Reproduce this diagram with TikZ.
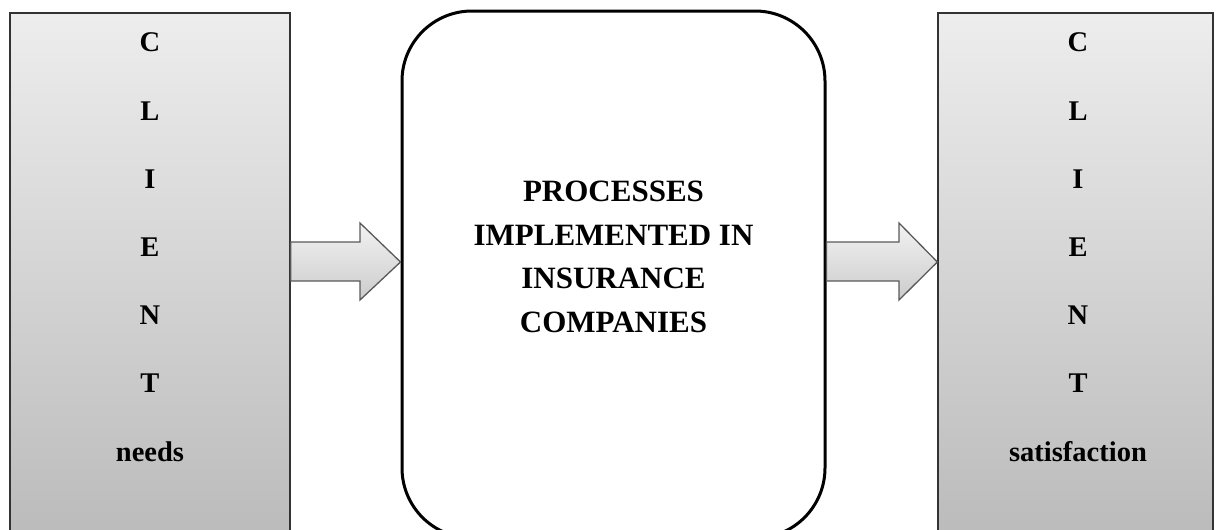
\documentclass[tikz,border=0pt]{standalone}
\usepackage{fontspec}
\setmainfont{Liberation Serif}
\begin{document}
\begin{tikzpicture}[x=1pt,y=-1pt,
  sidebox/.style={draw=black!80, line width=1.3pt, top color=black!7, bottom color=black!27,
    minimum width=280pt, minimum height=532pt, inner sep=0pt},
  midbox/.style={draw=black, line width=3pt, fill=white, rounded corners=70pt,
    minimum width=423pt, minimum height=527pt, inner sep=0pt},
  sidetext/.style={font=\bfseries\fontsize{28.5}{68.2}\selectfont, align=center, inner sep=0pt},
  midtext/.style={font=\bfseries\fontsize{31}{43.5}\selectfont, align=center, inner sep=0pt},
  flow/.style={draw=black!65, line width=1.3pt, line join=miter, top color=black!5, bottom color=black!20}
]
\useasboundingbox (0,0) rectangle (1216,530);
\clip (0,0) rectangle (1216,530);
\node[sidebox] (L) at (150,279) {};
\node[sidebox, minimum width=275pt] (R) at (1075.5,279) {};
\node[midbox] (M) at (613.5,274.5) {};
\node[sidetext, anchor=base] (Lt) at (150,461) {C\\L\\I\\E\\N\\T\\needs};
\node[sidetext, anchor=base] (Rt) at (1078,461) {C\\L\\I\\E\\N\\T\\satisfaction};
\node[midtext, anchor=base] (Mt) at (613.5,332) {PROCESSES\\IMPLEMENTED IN\\INSURANCE\\COMPANIES};
% arrows
\path[flow] (L.east |- 0,242) -- (360,242) -- (360,223) -- (M.west |- 0,262) -- (360,300) -- (360,281) -- (L.east |- 0,281) -- cycle;
\path[flow] (M.east |- 0,242) -- (899,242) -- (899,223) -- (R.west |- 0,262) -- (899,300) -- (899,281) -- (M.east |- 0,281) -- cycle;
\end{tikzpicture}
\end{document}
